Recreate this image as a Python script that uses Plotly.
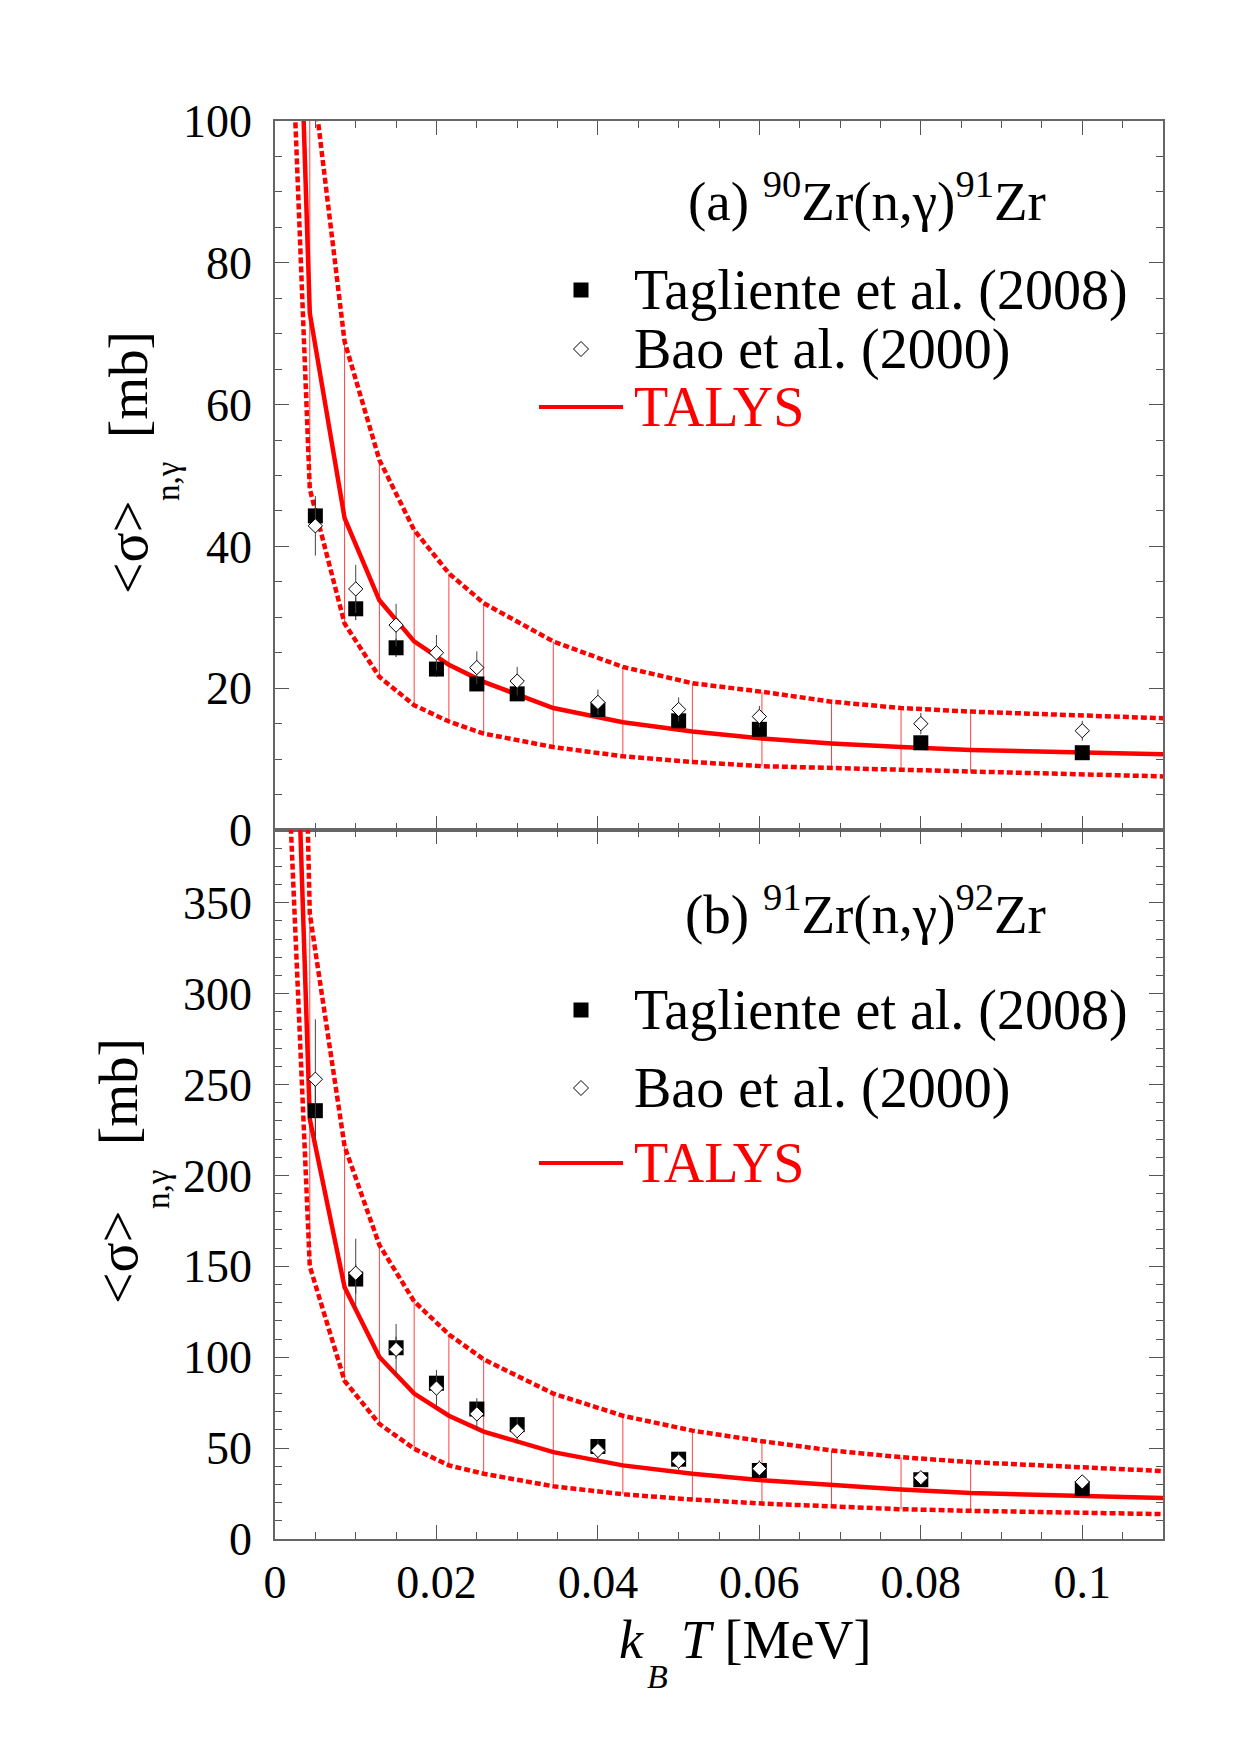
import plotly.graph_objects as go

# ---------------- data ----------------
kT_exp = [0.005, 0.01, 0.015, 0.02, 0.025, 0.03, 0.04, 0.05, 0.06, 0.08, 0.1]

# (a) 90Zr(n,g)91Zr
tag90 = [44.3, 31.2, 25.7, 22.7, 20.6, 19.2, 17.0, 15.4, 14.2, 12.3, 10.9]
tag90_err = [2.2, 1.6, 1.3, 1.1, 1.0, 1.0, 0.9, 0.8, 0.8, 0.7, 0.7]
bao90 = [42.9, 34.0, 28.9, 25.0, 22.9, 21.0, 18.0, 17.0, 16.0, 15.0, 14.0]
bao90_err = [4.2, 3.4, 3.0, 2.5, 2.3, 2.0, 1.8, 1.7, 1.5, 1.5, 1.4]

# (b) 91Zr(n,g)92Zr
tag91 = [235.6, 143.0, 105.2, 85.7, 71.5, 62.9, 50.9, 43.9, 37.7, 32.6, 27.7]
tag91_err = [14.0, 8.0, 6.0, 5.0, 4.0, 3.6, 3.0, 2.6, 2.2, 1.9, 1.6]
bao91 = [252.9, 146.2, 104.3, 83.0, 68.8, 59.6, 48.7, 42.8, 38.7, 33.7, 31.4]
bao91_err = [33.0, 19.0, 14.0, 10.0, 8.7, 7.0, 6.0, 5.0, 4.5, 3.5, 3.0]

# TALYS temperature grid (kT in MeV)
kT_talys = [0.000862, 0.00431, 0.00862, 0.01293, 0.01724, 0.02154, 0.02585,
            0.03447, 0.04309, 0.0517, 0.06032, 0.06894, 0.07755, 0.08617, 0.1293]
talys90 = [196, 72.9, 44.0, 32.4, 26.6, 23.3, 20.9, 17.2, 15.2, 13.9, 12.9, 12.2, 11.7, 11.3, 10.2]
talys90_hi = [300, 109.6, 68.9, 52.2, 42.3, 36.2, 32.0, 26.6, 23.0, 20.7, 19.5, 18.1, 17.2, 16.7, 15.0]
talys90_lo = [148, 48.1, 29.1, 21.6, 17.6, 15.3, 13.6, 11.7, 10.4, 9.6, 9.0, 8.7, 8.4, 8.1, 7.0]

talys91 = [700, 231, 138.5, 100.1, 80.0, 67.8, 59.1, 47.8, 40.5, 35.9, 32.3, 29.5, 27.2, 25.3, 20.4]
talys91_hi = [1000, 344, 216, 161.7, 130.7, 112.5, 98.8, 80.0, 67.8, 59.6, 53.8, 48.7, 45.0, 42.3, 33.4]
talys91_lo = [505, 150, 87.0, 63.3, 49.6, 40.5, 35.9, 29.0, 24.6, 21.7, 19.5, 17.7, 16.4, 15.5, 12.2]

x_ticks = [0, 0.02, 0.04, 0.06, 0.08, 0.1]
x_ticktext = ["0", "0.02", "0.04", "0.06", "0.08", "0.1"]

# ---------------- layout helpers ----------------
W, H = 1240, 1755
L, R, T, B = 275, 1163, 121, 1539
FONT = "Liberation Serif"
RED = "#ff0000"


def px(x):
    return (x - L) / (R - L)


def py(y):
    return (B - y) / (B - T)


fig = go.Figure()


def add_panel(xa, ya, talys, hi, lo, tag, tag_err, bao, bao_err):
    dash_line = dict(color=RED, width=4.5, dash="6px,3px")
    fig.add_trace(go.Scatter(x=kT_talys, y=hi, mode="lines", line=dash_line,
                             xaxis=xa, yaxis=ya, showlegend=False, hoverinfo="skip"))
    fig.add_trace(go.Scatter(x=kT_talys, y=lo, mode="lines", line=dash_line,
                             xaxis=xa, yaxis=ya, showlegend=False, hoverinfo="skip"))
    fig.add_trace(go.Scatter(
        x=kT_talys, y=talys, mode="lines", line=dict(color=RED, width=4.5),
        error_y=dict(type="data", symmetric=False,
                     array=[h - t for h, t in zip(hi, talys)],
                     arrayminus=[t - l for t, l in zip(talys, lo)],
                     color="rgba(255,0,0,0.75)", thickness=1, width=0),
        xaxis=xa, yaxis=ya, showlegend=False, hoverinfo="skip"))
    fig.add_trace(go.Scatter(
        x=kT_exp, y=tag, mode="markers",
        marker=dict(symbol="square", size=15, color="black"),
        error_y=dict(type="data", array=tag_err, color="#222", thickness=1, width=0),
        xaxis=xa, yaxis=ya, showlegend=False))
    fig.add_trace(go.Scatter(
        x=kT_exp, y=bao, mode="markers",
        marker=dict(symbol="diamond", size=11, color="white",
                    line=dict(color="black", width=1)),
        error_y=dict(type="data", array=bao_err, color="#444", thickness=1, width=0),
        xaxis=xa, yaxis=ya, showlegend=False))


add_panel("x", "y", talys90, talys90_hi, talys90_lo, tag90, tag90_err, bao90, bao90_err)
add_panel("x2", "y2", talys91, talys91_hi, talys91_lo, tag91, tag91_err, bao91, bao91_err)

axis_common = dict(
    showline=True, linecolor="#666", linewidth=1.5, mirror="ticks",
    ticks="inside", ticklen=14, tickwidth=1.2, tickcolor="#555",
    showgrid=False, zeroline=False,
    tickfont=dict(family=FONT, size=46, color="black"),
)
minor_x = dict(dtick=0.005, tick0=0, ticklen=7, ticks="inside", tickcolor="#555",
               tickwidth=1, showgrid=False)

fig.update_layout(
    width=W, height=H,
    margin=dict(l=L, r=W - R, t=T, b=H - B),
    paper_bgcolor="white", plot_bgcolor="white",
    showlegend=False,
    xaxis=dict(axis_common, domain=[0, 1], anchor="y", range=[0, 0.11],
               tickvals=x_ticks, showticklabels=False, minor=minor_x),
    yaxis=dict(axis_common, domain=[0.5, 1], anchor="x", range=[0, 100],
               tick0=0, dtick=20, ticklabelstandoff=12,
               minor=dict(dtick=5, tick0=0, ticklen=7, ticks="inside",
                          tickcolor="#555", tickwidth=1, showgrid=False)),
    xaxis2=dict(axis_common, domain=[0, 1], anchor="y2", range=[0, 0.11],
                tickvals=x_ticks, ticktext=x_ticktext,
                ticklabelstandoff=2, minor=minor_x),
    yaxis2=dict(axis_common, domain=[0, 0.5], anchor="x2", range=[0, 390],
                tick0=0, dtick=50, ticklabelstandoff=12,
                minor=dict(dtick=10, tick0=0, ticklen=7, ticks="inside",
                           tickcolor="#555", tickwidth=1, showgrid=False)),
)

annotations = []
shapes = []


def text(x, y, s, size, color="black", xanchor="left", angle=0):
    annotations.append(dict(x=px(x), y=py(y), xref="paper", yref="paper", text=s,
                            showarrow=False, xanchor=xanchor, yanchor="middle",
                            textangle=angle,
                            font=dict(family=FONT, size=size, color=color)))


def legend_block(title, y_title, y_tag, y_bao, y_tal, x_title):
    text(x_title, y_title, title, 55)
    text(632, y_tag, "Tagliente et al. (2008)", 56)
    text(632, y_bao, "Bao et al. (2000)", 56)
    text(632, y_tal, "TALYS", 56, color=RED)
    cx, hs = 581, 7.5
    shapes.append(dict(type="rect", xref="paper", yref="paper",
                       x0=px(cx - hs), x1=px(cx + hs), y0=py(y_tag - hs), y1=py(y_tag + hs),
                       fillcolor="black", line=dict(width=0)))
    d = 7.5
    path = "M {},{} L {},{} L {},{} L {},{} Z".format(
        px(cx - d), py(y_bao), px(cx), py(y_bao - d), px(cx + d), py(y_bao), px(cx), py(y_bao + d))
    shapes.append(dict(type="path", xref="paper", yref="paper", path=path,
                       fillcolor="white", line=dict(color="black", width=1)))
    shapes.append(dict(type="line", xref="paper", yref="paper",
                       x0=px(539), x1=px(623), y0=py(y_tal), y1=py(y_tal),
                       line=dict(color=RED, width=4)))


legend_block("(a) <sup>90</sup>Zr(n,γ)<sup>91</sup>Zr", 197, 290, 349, 407, 686)
legend_block("(b) <sup>91</sup>Zr(n,γ)<sup>92</sup>Zr", 910, 1010, 1088, 1163, 683)

# y-axis titles
for (xm, ys, xs, yn, yb) in [(128, 548, 168, 482, 385), (118, 1258, 158, 1190, 1092)]:
    text(xm, ys, "&lt;σ&gt;", 56, xanchor="center", angle=-90)
    text(xs, yn, "n,γ", 33, xanchor="center", angle=-90)
    text(xm, yb, "[mb]", 55, xanchor="center", angle=-90)

# x-axis title
text(617, 1640, "<i>k</i>", 54)
text(657, 1676, "<i>B</i>", 34, xanchor="center")
text(679, 1640, "<i>T</i> [MeV]", 54)

fig.update_layout(annotations=annotations, shapes=shapes)
fig.write_html("out.html")
